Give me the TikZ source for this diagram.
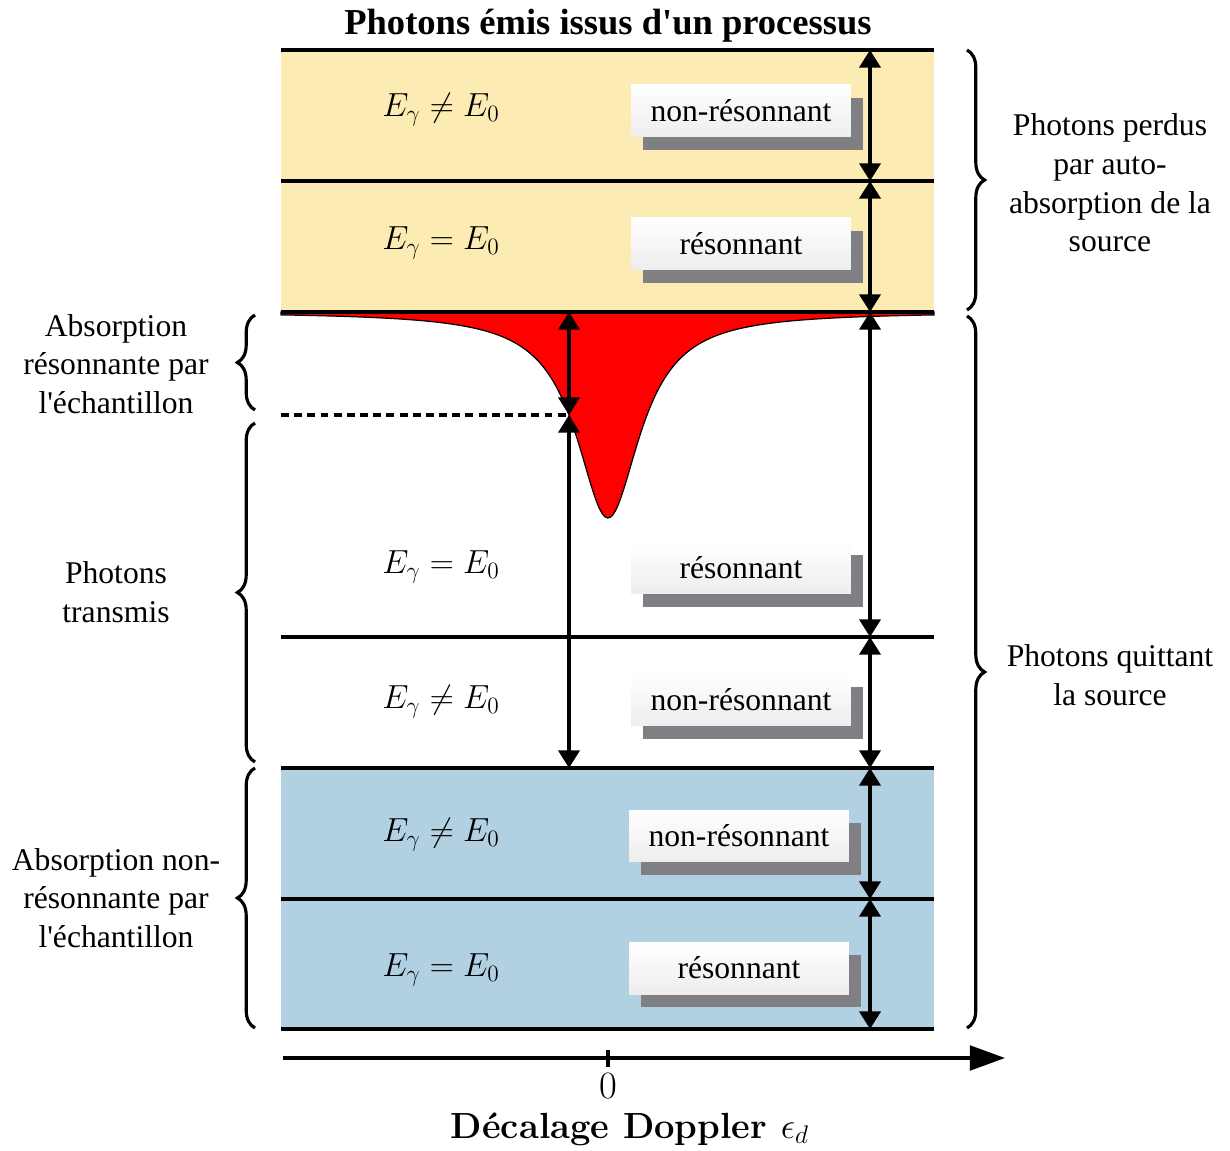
\RequirePackage{fix-cm}
\documentclass[tikz,border=0pt]{standalone}
\usepackage{fontspec}
\newfontfamily\timesfont{Liberation Serif}
\usetikzlibrary{arrows.meta,decorations.pathreplacing,shadows,positioning}
\definecolor{sourceyellow}{RGB}{252,235,178}
\definecolor{sampleblue}{RGB}{177,208,226}
\definecolor{tagshadow}{RGB}{128,128,132}
\definecolor{dipred}{RGB}{255,0,0}
\tikzset{
  sepline/.style={line width=2pt},
  darr/.style={{Triangle[length=10pt,width=12pt]}-{Triangle[length=10pt,width=12pt]},line width=1.9pt},
  tag/.style={rectangle,top color=white,bottom color=black!7,minimum width=4.4cm,minimum height=1.04cm,inner sep=0pt,
    font=\timesfont\fontsize{18}{22}\selectfont,
    drop shadow={shadow xshift=6.8pt,shadow yshift=-7.4pt,fill=tagshadow,opacity=1}},
  energy/.style={font=\fontsize{19}{22}\selectfont},
  side/.style={align=center,font=\timesfont\fontsize{18}{22}\selectfont},
  brc/.style={decorate,decoration={brace,amplitude=10pt},line width=1.8pt},
  axisarr/.style={-{Triangle[length=20pt,width=14pt]},line width=2pt}
}
\begin{document}
\begin{tikzpicture}[x=0.02cm,y=-0.02cm]
  \useasboundingbox (0,0) rectangle (1230,1151);

  %% bands
  \fill[sourceyellow] (281,50) rectangle (934,312);
  \fill[sampleblue] (281,768) rectangle (934,1029);

  %% absorption dip
  \fill[dipred,draw=black,line width=0.7pt] (281,312) -- plot[domain=281:934,samples=241]
    (\x,{312+206/(1+((\x-608)/39)^2)}) -- (934,312) -- cycle;

  %% level lines
  \foreach \yl in {50,181,312,637,768,899,1029}
    \draw[sepline] (281,\yl) -- (934,\yl);

  %% level coordinates
  \coordinate (s0) at (870,50);   \coordinate (s1) at (870,181);
  \coordinate (s2) at (870,312);  \coordinate (s3) at (870,637);
  \coordinate (s4) at (870,768);  \coordinate (s5) at (870,899);
  \coordinate (s6) at (870,1029);
  \coordinate (m0) at (569,312);  \coordinate (m1) at (569,415);
  \coordinate (m2) at (569,768);  \coordinate (hm) at (281,415);

  \draw[line width=2pt,dash pattern=on 4.5pt off 3pt] (hm) -- (m1);

  %% energy labels
  \node[energy] (e1) at (441,110) {$E_\gamma \neq E_0$};
  \node[energy] (e2) at (441,243) {$E_\gamma = E_0$};
  \node[energy] (e3) at (441,567) {$E_\gamma = E_0$};
  \node[energy] (e4) at (441,702) {$E_\gamma \neq E_0$};
  \node[energy] (e5) at (441,835) {$E_\gamma \neq E_0$};
  \node[energy] (e6) at (441,970) {$E_\gamma = E_0$};

  %% tags
  \node[tag] (t1) at (741,111) {non-résonnant};
  \node[tag] (t2) at (741,244) {résonnant};
  \node[tag] (t3) at (741,568) {résonnant};
  \node[tag] (t4) at (741,700) {non-résonnant};
  \node[tag] (t5) at (739,836) {non-résonnant};
  \node[tag] (t6) at (739,968) {résonnant};

  %% arrows
  \draw[darr] (s0) -- (s1); \draw[darr] (s1) -- (s2);
  \draw[darr] (s2) -- (s3); \draw[darr] (s3) -- (s4);
  \draw[darr] (s4) -- (s5); \draw[darr] (s5) -- (s6);
  \draw[darr] (m0) -- (m1); \draw[darr] (m1) -- (m2);

  %% braces
  \draw[brc] (967,50) -- (967,310);
  \draw[brc] (967,316) -- (967,1028);
  \draw[brc] (255,410) -- (255,315);
  \draw[brc] (255,762) -- (255,423);
  \draw[brc] (255,1028) -- (255,768);

  %% side labels
  \node[side] (lost) at (1110,183) {Photons perdus\\par auto-\\absorption de la\\source};
  \node[side] (leave) at (1110,675) {Photons quittant\\la source};
  \node[side] (resabs) at (116,364) {Absorption\\résonnante par\\l\textquotesingle échantillon};
  \node[side] (trans) at (116,592) {Photons\\transmis};
  \node[side] (nonabs) at (116,898) {Absorption non-\\résonnante par\\l\textquotesingle échantillon};

  %% title
  \node[font=\timesfont\bfseries\fontsize{20.8}{24}\selectfont] (title) at (608,26) {Photons émis issus d\textquotesingle un processus};

  %% axis
  \coordinate (ax0) at (283,1058); \coordinate (ax1) at (1005,1058);
  \draw[axisarr] (ax0) -- (ax1);
  \draw[line width=2pt] (608,1050) -- (608,1067);
  \node[font=\fontsize{22}{24}\selectfont] (zero) at (608,1086) {$0$};
  \node[font=\bfseries\fontsize{20.7}{24}\selectfont] (dlabel) at (630,1129) {Décalage Doppler $\epsilon_d$};
\end{tikzpicture}
\end{document}
